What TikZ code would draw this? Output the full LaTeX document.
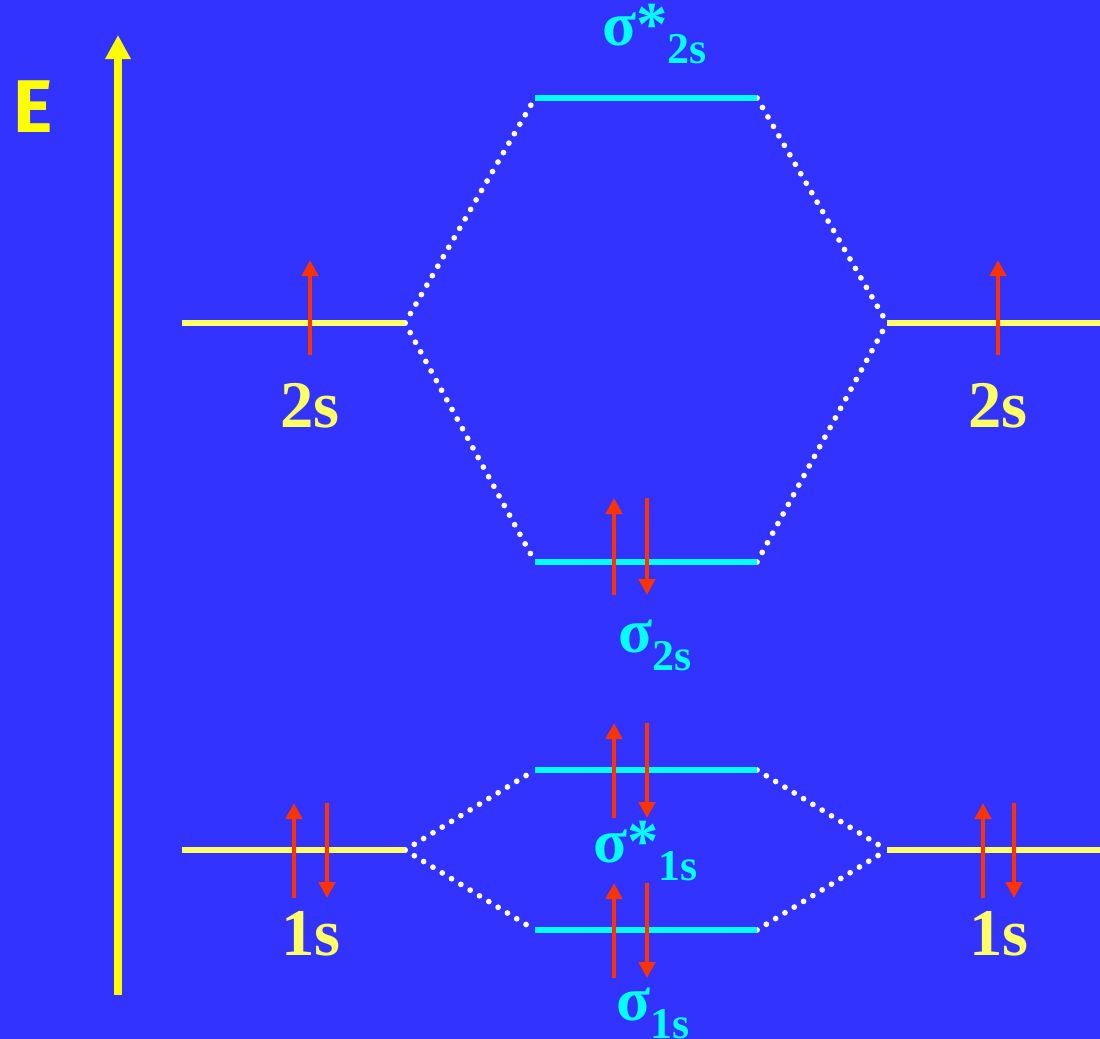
\documentclass[tikz,border=0pt]{standalone}
\usepackage{fontspec}
\setmainfont{Liberation Serif}
\newfontfamily\efont{Fira Sans}
\usetikzlibrary{arrows.meta}
\definecolor{bg}{HTML}{3333FF}
\definecolor{axisyel}{HTML}{FFFF00}
\definecolor{lvlyel}{HTML}{FFFF66}
\definecolor{mocyan}{HTML}{00FFFF}
\definecolor{elred}{HTML}{FF3300}
\newcommand\lowsub[1]{\raisebox{-13.5pt}{\fontsize{33}{33}\selectfont #1}}
\begin{document}
\begin{tikzpicture}[x=0.75pt,y=-0.75pt,
  atomlvl/.style={draw=lvlyel,line width=4.5pt},
  molvl/.style={draw=mocyan,line width=4.5pt},
  corr/.style={draw=white,line width=4.3pt,line cap=round,dash pattern=on 0pt off 8.2pt},
  elec/.style={draw=elred,line width=3pt,-{Triangle[width=12pt,length=12pt]}},
  atomlab/.style={text=lvlyel,font=\bfseries\fontsize{50}{50}\selectfont,anchor=base,inner sep=0pt},
  molab/.style={text=mocyan,font=\bfseries\fontsize{47}{47}\selectfont,anchor=base west,inner sep=0pt}]
\useasboundingbox (0,0) rectangle (1100,1039);
\fill[bg] (0,0) rectangle (1100,1039);
\clip (0,0) rectangle (1100,1039);
% energy axis
\coordinate (ax0) at (118,995);
\coordinate (ax1) at (118,35);
\draw[draw=axisyel,line width=6pt,-{Triangle[width=18pt,length=18pt]}] (ax0) -- (ax1);
\node[text=axisyel,font=\efont\bfseries\fontsize{56}{56}\selectfont,inner sep=0pt] (E) at (33,107) {E};
% level endpoints
\coordinate (L2a) at (182,323); \coordinate (L2b) at (405,323);
\coordinate (R2a) at (887,323); \coordinate (R2b) at (1100,323);
\coordinate (S2a) at (535,98);  \coordinate (S2b) at (757,98);
\coordinate (B2a) at (535,562); \coordinate (B2b) at (757,562);
\coordinate (L1a) at (182,850); \coordinate (L1b) at (405,850);
\coordinate (R1a) at (887,850); \coordinate (R1b) at (1100,850);
\coordinate (S1a) at (535,770); \coordinate (S1b) at (757,770);
\coordinate (B1a) at (535,930); \coordinate (B1b) at (757,930);
% correlation lines
\draw[corr] (L2b) -- (S2a);
\draw[corr] (L2b) -- (B2a);
\draw[corr] (S2b) -- (R2a);
\draw[corr] (B2b) -- (R2a);
\draw[corr] (L1b) -- (S1a);
\draw[corr] (L1b) -- (B1a);
\draw[corr] (S1b) -- (R1a);
\draw[corr] (B1b) -- (R1a);
% levels
\draw[atomlvl] (L2a) -- (L2b);
\draw[atomlvl] (R2a) -- (R2b);
\draw[atomlvl] (L1a) -- (L1b);
\draw[atomlvl] (R1a) -- (R1b);
\draw[molvl] (S2a) -- (S2b);
\draw[molvl] (B2a) -- (B2b);
\draw[molvl] (S1a) -- (S1b);
\draw[molvl] (B1a) -- (B1b);
% electrons
\coordinate (e1a) at (310,355); \coordinate (e1b) at (310,260);
\coordinate (e2a) at (998,355); \coordinate (e2b) at (998,260);
\coordinate (e3a) at (614,595); \coordinate (e3b) at (614,498);
\coordinate (e4a) at (647,498); \coordinate (e4b) at (647,595);
\coordinate (e5a) at (614,818); \coordinate (e5b) at (614,723);
\coordinate (e6a) at (647,723); \coordinate (e6b) at (647,818);
\coordinate (e7a) at (614,978); \coordinate (e7b) at (614,883);
\coordinate (e8a) at (647,883); \coordinate (e8b) at (647,978);
\coordinate (e9a) at (294,898); \coordinate (e9b) at (294,803);
\coordinate (e10a) at (327,803); \coordinate (e10b) at (327,898);
\coordinate (e11a) at (983,898); \coordinate (e11b) at (983,803);
\coordinate (e12a) at (1014,803); \coordinate (e12b) at (1014,898);
\foreach \i in {1,...,12} {\draw[elec] (e\i a) -- (e\i b);}
% labels
\node[atomlab] (l2s) at (310,427) {2s};
\node[atomlab] (r2s) at (998,427) {2s};
\node[atomlab] (l1s) at (311,955) {1s};
\node[atomlab] (r1s) at (999,955) {1s};
\node[molab] (ls2s) at (602,45) {σ*\lowsub{2s}};
\node[molab] (lb2s) at (618,652) {σ\lowsub{2s}};
\node[molab] (ls1s) at (593,862) {σ*\lowsub{1s}};
\node[molab] (lb1s) at (616,1020) {σ\lowsub{1s}};
\end{tikzpicture}
\end{document}
